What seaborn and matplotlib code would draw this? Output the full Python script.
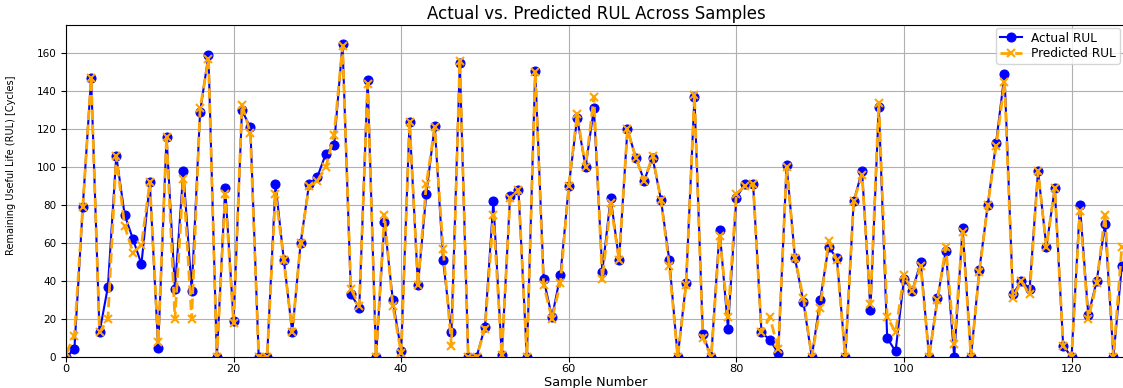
import matplotlib
matplotlib.use("Agg")
import matplotlib.pyplot as plt
import seaborn as sns
import numpy as np
import pandas as pd

actual_rul = [0, 4, 79, 147, 13, 37, 106, 75, 62, 49,
              92, 5, 116, 36, 98, 35, 129, 159, 0, 89,
              19, 130, 121, 0, 0, 91, 51, 13, 60, 91,
              95, 107, 112, 165, 33, 26, 146, 0, 71, 30,
              3, 124, 38, 86, 122, 51, 13, 155, 0, 0,
              16, 82, 1, 85, 88, 0, 151, 41, 21, 43,
              90, 126, 100, 131, 45, 84, 51, 120, 105, 93,
              105, 83, 51, 0, 39, 137, 12, 0, 67, 15,
              84, 91, 91, 13, 9, 2, 101, 52, 29, 0,
              30, 58, 52, 0, 82, 98, 25, 132, 10, 3,
              41, 35, 50, 0, 31, 56, 0, 68, 0, 46,
              80, 113, 149, 33, 40, 36, 98, 58, 89, 6,
              0, 80, 22, 40, 70, 0, 48]

predicted_rul = [2, 11, 79, 147, 13, 20, 106, 69, 55, 59,
                 92, 8, 116, 20, 94, 20, 131, 157, 0, 86,
                 18, 133, 118, 0, 0, 86, 51, 13, 60, 90,
                 93, 100, 117, 164, 36, 27, 144, 0, 75, 27,
                 2, 124, 38, 91, 121, 57, 6, 156, 0, 0,
                 15, 75, 1, 84, 88, 0, 150, 38, 20, 39,
                 90, 128, 100, 137, 41, 81, 51, 120, 105, 93,
                 106, 83, 48, 0, 38, 138, 10, 0, 64, 21,
                 86, 90, 91, 13, 21, 4, 100, 52, 31, 0,
                 26, 61, 51, 0, 82, 96, 28, 134, 21, 13,
                 43, 35, 48, 0, 30, 58, 7, 66, 0, 45,
                 80, 111, 145, 31, 40, 33, 98, 58, 89, 6,
                 0, 77, 20, 39, 75, 0, 58]

samples = list(range(len(actual_rul)))

x_ticks = [0, 20, 40, 60, 80, 100, 120]
y_ticks = [0, 20, 40, 60, 80, 100, 120, 140, 160]

df = pd.DataFrame({"sample": samples, "actual": actual_rul, "predicted": predicted_rul})

fig = plt.figure(figsize=(11.23, 3.88), dpi=100)
ax = fig.add_axes([66 / 1123, 31 / 388, 1060 / 1123, 332 / 388])

sns.lineplot(data=df, x="sample", y="actual", ax=ax, color="blue", marker="o",
             markersize=6.5, markeredgecolor="blue", linewidth=1.5, label="Actual RUL")
sns.lineplot(data=df, x="sample", y="predicted", ax=ax, color="orange", marker="x",
             markersize=6, markeredgecolor="orange", markeredgewidth=1.5,
             linestyle="--", linewidth=2, label="Predicted RUL")

ax.set_xlim(0, 126.5)
ax.set_ylim(0, 175)
ax.set_xticks(x_ticks)
ax.set_yticks(y_ticks)
ax.tick_params(axis="x", labelsize=8.2, pad=1.5)
ax.tick_params(axis="y", labelsize=7.5)
ax.grid(True, color="#b0b0b0", linewidth=0.8)
ax.set_axisbelow(True)
ax.set_title("Actual vs. Predicted RUL Across Samples", fontsize=12, pad=4)
ax.set_xlabel("Sample Number", fontsize=9.2)
ax.xaxis.set_label_coords(0.5, -0.057)
ax.set_ylabel("Remaining Useful Life (RUL) [Cycles]", fontsize=7)
ax.yaxis.set_label_coords(-0.047, 0.578)
ax.legend(loc="upper right", bbox_to_anchor=(0.994, 0.991), borderaxespad=0,
          fontsize=8.7, labelspacing=0.2, borderpad=0.3, handlelength=1.8)

fig.savefig("out.png", dpi=100)
